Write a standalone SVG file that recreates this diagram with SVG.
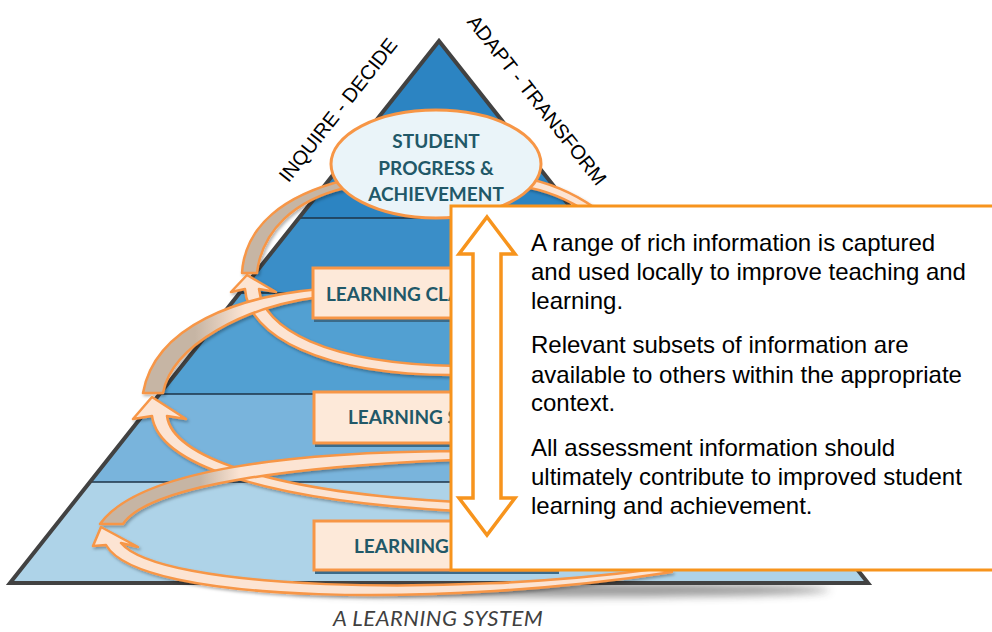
<svg xmlns="http://www.w3.org/2000/svg" width="992" height="632" viewBox="0 0 992 632">
<defs>
<style>
.lbl{font-family:Lato,"Open Sans","Liberation Sans",sans-serif;font-weight:700;font-size:19px;fill:#215868}
.side{font-family:"Liberation Sans",Arial,sans-serif;font-size:20px;fill:#000}
.body{font-family:"Liberation Sans",Arial,sans-serif;font-size:24px;fill:#000}
.cap{font-family:Lato,"Open Sans",sans-serif;font-style:italic;font-size:22px;letter-spacing:0.5px;fill:#404040}
.rib{stroke:#f79646;stroke-width:2.5;stroke-linejoin:round}
.front{fill:#fce4d3}
.back{fill:#c6b5a4}
.box{fill:#fde9d9;stroke:#f79646;stroke-width:3}
.bsh{fill:#3b6b8a}
.line{stroke:#1c3347;stroke-width:1.5}
</style>
<clipPath id="tri"><polygon points="439,41 868,583 10,583"/></clipPath>
<linearGradient id="g2" gradientUnits="userSpaceOnUse" x1="245" y1="0" x2="195" y2="0"><stop offset="0" stop-color="#fce4d3"/><stop offset="1" stop-color="#c6b5a4"/></linearGradient>
<linearGradient id="g3" gradientUnits="userSpaceOnUse" x1="240" y1="0" x2="200" y2="0"><stop offset="0" stop-color="#fce4d3"/><stop offset="1" stop-color="#c6b5a4"/></linearGradient>
<filter id="ds" x="-10%" y="-10%" width="130%" height="130%"><feDropShadow dx="1.5" dy="2" stdDeviation="1.5" flood-color="#000" flood-opacity="0.3"/></filter>
<filter id="blur" x="-20%" y="-200%" width="140%" height="500%"><feGaussianBlur stdDeviation="4"/></filter>
</defs>

<g id="pyramid">
<ellipse cx="560" cy="590" rx="270" ry="7" fill="#444" opacity=".55" filter="url(#blur)"/>
<g clip-path="url(#tri)">
<rect x="0" y="0" width="992" height="218" fill="#2c84c2"/>
<rect x="0" y="218" width="992" height="75" fill="#3a8ec8"/>
<rect x="0" y="293" width="992" height="101" fill="#52a0d2"/>
<rect x="0" y="394" width="992" height="88" fill="#79b4dc"/>
<rect x="0" y="482" width="992" height="101" fill="#aed3e8"/>
<line class="line" x1="0" y1="218" x2="992" y2="218"/>
<line class="line" x1="0" y1="293" x2="992" y2="293"/>
<line class="line" x1="0" y1="394" x2="992" y2="394"/>
<line class="line" x1="0" y1="482" x2="992" y2="482"/>
</g>
<polygon points="439,41 868,583 10,583" fill="none" stroke="#424242" stroke-width="4"/>
</g>

<g id="connectors" filter="url(#ds)">
<path id="t1" class="rib back" d="M 242 273 C 245 225, 285 195, 345 180 L 345 188 C 295 200, 262 230, 257 273 Z"/>
<path id="t1r" class="rib front" d="M 520 177 C 548 182, 572 192, 595 208 L 590 214 C 568 199, 546 190, 520 186 Z"/>
<path id="p1" class="rib front" d="M 458 366 C 325 364, 263 328, 259 289 L 276 292 L 247 275 L 231 292 L 245 289 C 248 335, 320 376, 458 375 Z"/>
<path id="r2" class="rib" fill="url(#g2)" d="M 320 289 C 240 296, 155 325, 143 393 L 163 393 C 172 345, 245 306, 320 297 Z"/>
<path id="p2" class="rib front" d="M 458 502 C 265 492, 172 455, 167 416 L 186 419 L 152 397 L 133 419 L 152 416 C 158 462, 255 500, 458 511 Z"/>
<path id="r3" class="rib" fill="url(#g3)" d="M 455 451 C 300 452, 140 468, 100 524 L 123 524 C 150 484, 300 466, 455 460 Z"/>
<path id="p3" class="rib front" d="M 655 569 C 450 597, 160 590, 121 543 L 138 547 L 101 527 L 93 546 L 106 545 C 140 605, 450 607, 672 572 Z"/>
</g>

<g id="box-classroom">
<rect class="bsh" x="314" y="271" width="244" height="51"/>
<rect class="box" x="313" y="268" width="244" height="50"/>
<text class="lbl" x="326" y="301">LEARNING CLA</text>
</g>
<g id="box-school">
<rect class="bsh" x="315" y="395" width="244" height="52"/>
<rect class="box" x="314" y="392" width="244" height="51"/>
<text class="lbl" x="348" y="424">LEARNING S</text>
</g>
<g id="box-system">
<rect class="bsh" x="315" y="524" width="244" height="50"/>
<rect class="box" x="314" y="521" width="244" height="49"/>
<text class="lbl" x="354" y="553">LEARNING</text>
</g>

<g id="student">
<ellipse cx="436" cy="164" rx="105" ry="54" fill="#eaf4f9" stroke="#f79646" stroke-width="3"/>
<text class="lbl" x="436" y="148" text-anchor="middle">STUDENT</text>
<text class="lbl" x="436" y="174.5" text-anchor="middle">PROGRESS &amp;</text>
<text class="lbl" x="436" y="201" text-anchor="middle">ACHIEVEMENT</text>
</g>

<g id="callout">
<rect x="451" y="206" width="560" height="364" fill="#fff" stroke="#f7941d" stroke-width="3"/>
<path d="M 487 217 L 515 254 L 501 254 L 501 498 L 515 498 L 487 535 L 459 498 L 473 498 L 473 254 L 459 254 Z" fill="#fff" stroke="#f7941d" stroke-width="3.5"/>
<text class="body" x="531" y="251">A range of rich information is captured</text>
<text class="body" x="531" y="280">and used locally to improve teaching and</text>
<text class="body" x="531" y="309">learning.</text>
<text class="body" x="531" y="353">Relevant subsets of information are</text>
<text class="body" x="531" y="383">available to others within the appropriate</text>
<text class="body" x="531" y="411">context.</text>
<text class="body" x="531" y="456">All assessment information should</text>
<text class="body" x="531" y="485">ultimately contribute to improved student</text>
<text class="body" x="531" y="514">learning and achievement.</text>
</g>

<g id="labels">
<text class="side" transform="translate(338,110) rotate(-51.6)" x="0" y="7" text-anchor="middle">INQUIRE - DECIDE</text>
<text class="side" transform="translate(537,100) rotate(51.6)" x="0" y="7" text-anchor="middle">ADAPT - TRANSFORM</text>
<text class="cap" x="333" y="626">A LEARNING SYSTEM</text>
</g>
</svg>
